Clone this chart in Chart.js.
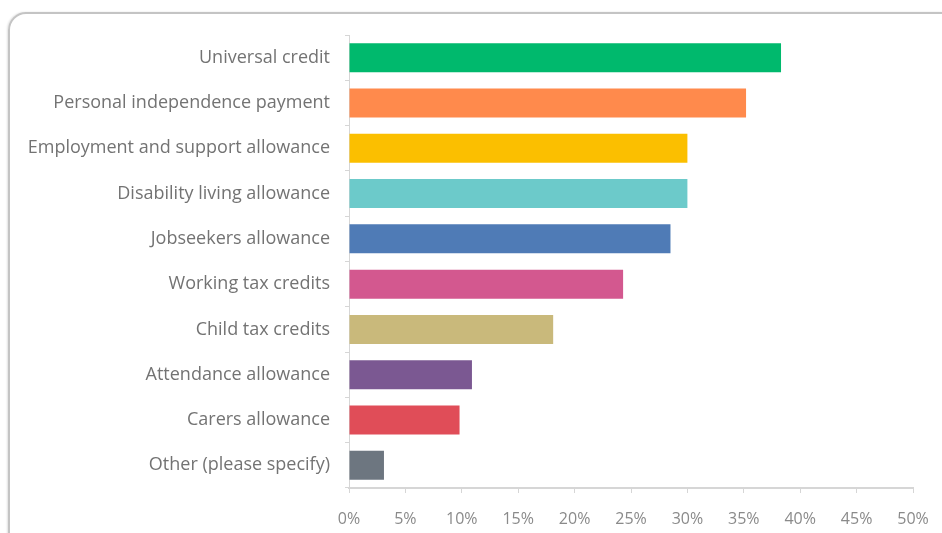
<!DOCTYPE html>
<html>
<head>
<meta charset="utf-8">
<script src="https://cdn.jsdelivr.net/npm/chart.js@4.4.0/dist/chart.umd.min.js"></script>
<style>
  html, body { margin: 0; padding: 0; background: #fff; }
  body { width: 942px; height: 533px; position: relative; overflow: hidden; }
  .frame {
    position: absolute; left: 8px; top: 12px; width: 950px; height: 540px;
    border: 2px solid #c4c4c4; border-radius: 18px; box-sizing: border-box;
    box-shadow: -1px 0 2px rgba(0,0,0,0.12);
  }
  #wrap { position: absolute; left: 0; top: 0; width: 942px; height: 533px; }
</style>
</head>
<body>
<div class="frame"></div>
<div id="wrap"><canvas id="myChart"></canvas></div>
<script>
// benefits claimed, share of respondents (%)
var categories = [
    'Universal credit',
    'Personal independence payment',
    'Employment and support allowance',
    'Disability living allowance',
    'Jobseekers allowance',
    'Working tax credits',
    'Child tax credits',
    'Attendance allowance',
    'Carers allowance',
    'Other (please specify)'
];
var shares = [38.3, 35.2, 30.0, 30.0, 28.5, 24.3, 18.1, 10.9, 9.8, 3.1];
var barColors = [
    '#00b96d',
    '#ff8a4c',
    '#fbbf00',
    '#6ccaca',
    '#4f7bb6',
    '#d3588f',
    '#c9b97b',
    '#7b5892',
    '#e04d58',
    '#6d7680'
];
var xTicks = [0, 5, 10, 15, 20, 25, 30, 35, 40, 45, 50];

var ctx = document.getElementById('myChart').getContext('2d');
new Chart(ctx, {
    type: 'bar',
    data: {
        labels: categories,
        datasets: [{
            data: shares,
            backgroundColor: barColors,
            barPercentage: 0.64,
            categoryPercentage: 1.0
        }]
    },
    options: {
        indexAxis: 'y',
        responsive: true,
        maintainAspectRatio: false,
        animation: false,
        layout: { padding: { top: 35, right: 29, bottom: 0, left: 0 } },
        plugins: { legend: { display: false }, tooltip: { enabled: false } },
        scales: {
            x: {
                min: 0,
                max: 50,
                afterBuildTicks: function (scale) {
                    scale.ticks = xTicks.map(function (v) { return { value: v }; });
                },
                afterFit: function (scale) {
                    scale.height = 45;
                    scale.paddingLeft = 0;
                    scale.paddingRight = 0;
                },
                border: { display: true, color: '#d6d6d6', width: 2 },
                grid: { drawOnChartArea: false, drawTicks: true, tickLength: 5, color: '#d6d6d6' },
                ticks: {
                    padding: 17,
                    color: '#8a8a8a',
                    font: { family: 'Open Sans', size: 16 },
                    callback: function (v) { return v + '%'; }
                }
            },
            y: {
                afterFit: function (scale) { scale.width = 349; },
                border: { display: true, color: '#d6d6d6', width: 1 },
                grid: { drawOnChartArea: false, drawTicks: true, tickLength: 4, color: '#d6d6d6' },
                ticks: {
                    padding: 15,
                    color: '#737373',
                    font: { family: 'Open Sans', size: 18 }
                }
            }
        }
    }
});
</script>
</body>
</html>
